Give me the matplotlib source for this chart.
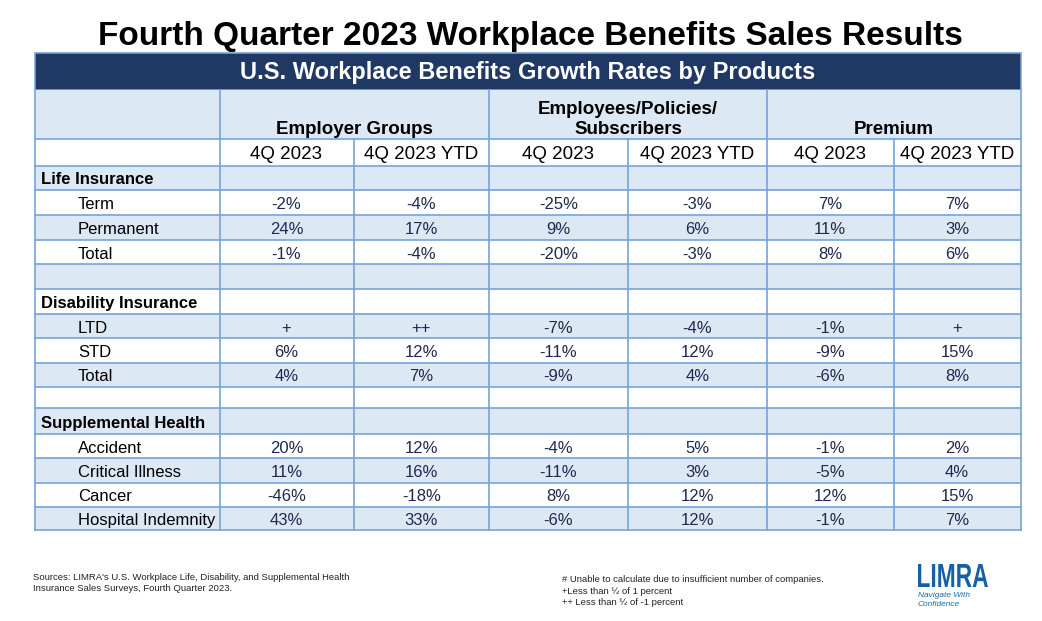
import matplotlib
matplotlib.use('Agg')
import matplotlib.pyplot as plt
from matplotlib.patches import Rectangle, PathPatch
from matplotlib.textpath import TextPath
from matplotlib.font_manager import FontProperties
from matplotlib.transforms import Affine2D

plt.rcParams['font.family'] = ['Liberation Sans', 'DejaVu Sans']

TITLE = 'Fourth Quarter 2023 Workplace Benefits Sales Results'
SUBTITLE = 'U.S. Workplace Benefits Growth Rates by Products'
GROUPS = ['Employer Groups', 'Employees/Policies/\nSubscribers', 'Premium']
PERIODS = ['4Q 2023', '4Q 2023 YTD']

row_labels = ['Life Insurance', 'Term', 'Permanent', 'Total', '',
              'Disability Insurance', 'LTD', 'STD', 'Total', '',
              'Supplemental Health', 'Accident', 'Critical Illness', 'Cancer',
              'Hospital Indemnity']
# True = section heading, False = product row, None = spacer
row_section = [True, False, False, False, None,
               True, False, False, False, None,
               True, False, False, False, False]
emp_q = ['', '-2%', '24%', '-1%', '', '', '+', '6%', '4%', '', '', '20%', '11%', '-46%', '43%']
emp_ytd = ['', '-4%', '17%', '-4%', '', '', '++', '12%', '7%', '', '', '12%', '16%', '-18%', '33%']
pol_q = ['', '-25%', '9%', '-20%', '', '', '-7%', '-11%', '-9%', '', '', '-4%', '-11%', '8%', '-6%']
pol_ytd = ['', '-3%', '6%', '-3%', '', '', '-4%', '12%', '4%', '', '', '5%', '3%', '12%', '12%']
prem_q = ['', '7%', '11%', '8%', '', '', '-1%', '-9%', '-6%', '', '', '-1%', '-5%', '12%', '-1%']
prem_ytd = ['', '7%', '3%', '6%', '', '', '+', '15%', '8%', '', '', '2%', '4%', '15%', '7%']

SOURCES = ("Sources: LIMRA's U.S. Workplace Life, Disability, and Supplemental Health\n"
           "Insurance Sales Surveys, Fourth Quarter 2023.")
NOTES = ("# Unable to calculate due to insufficient number of companies.\n"
         "+Less than \u00bd of 1 percent\n"
         "++ Less than \u00bd of -1 percent")

NAVY = '#1f3864'
LIGHT = '#dde8f5'
GRID = '#76a3da'
VALC = '#1c2a4f'
LOGO = '#1560a6'

# layout in pixel coordinates
col_x = [35, 219.5, 353.5, 489, 627.5, 767, 893.5, 1020.5]
band = (52.5, 89.5)
head_y = [89.5, 139, 165.7]
row_y = [165.7, 190.2, 215, 239.8, 264.3, 289.3, 314.3, 338.4, 362.6,
         386.7, 408.3, 434.3, 458.4, 482.6, 506.7, 529.5]

fig = plt.figure(figsize=(10.42, 6.21), dpi=100)
ax = fig.add_axes([0, 0, 1, 1])
ax.set_xlim(0, 1042)
ax.set_ylim(621, 0)
ax.axis('off')

ax.text(530, 36, TITLE, ha='center', va='center', fontsize=24,
        fontweight='bold', color='black')

# title band
ax.add_patch(Rectangle((col_x[0], band[0]), col_x[-1] - col_x[0], band[1] - band[0],
                       facecolor=NAVY, edgecolor=GRID, lw=1.2, zorder=1))
ax.text((col_x[0] + col_x[-1]) / 2, (band[0] + band[1]) / 2 + 1, SUBTITLE,
        ha='center', va='center', fontsize=17, fontweight='bold', color='white')

# header rows
ax.add_patch(Rectangle((col_x[0], head_y[0]), col_x[-1] - col_x[0], head_y[1] - head_y[0],
                       facecolor=LIGHT, edgecolor='none', zorder=1))
for i, g in enumerate(GROUPS):
    xc = (col_x[1 + 2 * i] + col_x[3 + 2 * i]) / 2
    lines = g.split('\n')
    for k, line in enumerate(reversed(lines)):
        ax.text(xc, 134.5 - 21 * k, line, ha='center', va='baseline',
                fontsize=13.5, fontweight='bold', color='black')
    for j, p in enumerate(PERIODS):
        xc = (col_x[1 + 2 * i + j] + col_x[2 + 2 * i + j]) / 2
        ax.text(xc, (head_y[1] + head_y[2]) / 2 + 2, p, ha='center', va='center',
                fontsize=13.5, color='black')

# body rows
cols = [emp_q, emp_ytd, pol_q, pol_ytd, prem_q, prem_ytd]
for r, lab in enumerate(row_labels):
    y0, y1 = row_y[r], row_y[r + 1]
    if r % 2 == 0:
        ax.add_patch(Rectangle((col_x[0], y0), col_x[-1] - col_x[0], y1 - y0,
                               facecolor=LIGHT, edgecolor='none', zorder=1))
    yc = (y0 + y1) / 2 + 2
    if row_section[r]:
        ax.text(41, yc, lab, ha='left', va='center', fontsize=12,
                fontweight='bold', color='black')
    elif row_section[r] is False:
        ax.text(78, yc, lab, ha='left', va='center', fontsize=12, color='black')
    for c, vals in enumerate(cols):
        if vals[r]:
            ax.text((col_x[c + 1] + col_x[c + 2]) / 2, yc, vals[r], ha='center',
                    va='center', fontsize=12, color=VALC)

# grid lines
top, bottom = head_y[0], row_y[-1]
for x in [col_x[0], col_x[1], col_x[3], col_x[5], col_x[-1]]:
    ax.plot([x, x], [top, bottom], color=GRID, lw=1.2, zorder=3)
for x in [col_x[2], col_x[4], col_x[6]]:
    ax.plot([x, x], [head_y[1], bottom], color=GRID, lw=1.2, zorder=3)
for y in head_y[1:] + row_y[1:]:
    ax.plot([col_x[0], col_x[-1]], [y, y], color=GRID, lw=1.2, zorder=3)

# footnotes
ax.text(33, 583, SOURCES, ha='left', va='center', fontsize=6.8, color='#222222',
        linespacing=1.3)
ax.text(562, 591, NOTES, ha='left', va='center', fontsize=6.8, color='#222222',
        linespacing=1.35)

# logo: condensed word mark squeezed into its box
tp = TextPath((0, 0), 'LIMRA', size=1,
              prop=FontProperties(family='Liberation Sans', weight='bold'))
ext = tp.get_extents()
sx = 70 / ext.width
sy = 23 / ext.height
tr = Affine2D().translate(-ext.x0, -ext.y0).scale(sx, -sy).translate(918, 587)
ax.add_patch(PathPatch(tr.transform_path(tp), facecolor=LOGO, edgecolor='none'))
ax.text(918, 600, 'Navigate With\nConfidence', ha='left', va='center', fontsize=6,
        style='italic', color='#1a6aad', linespacing=1.25)

fig.savefig('out.png', dpi=100)
